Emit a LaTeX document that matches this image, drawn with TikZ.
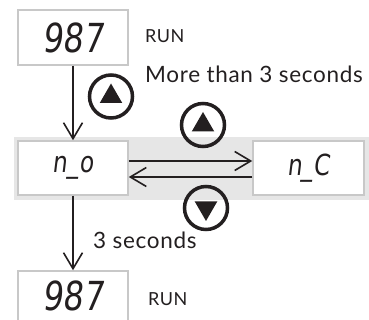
\documentclass[tikz,border=0pt]{standalone}
\usepackage{fontspec}
\setmainfont[LetterSpace=3]{Lato}
\newfontfamily\segfont[FakeSlant=0.15]{DejaVu Sans}
\usetikzlibrary{arrows.meta,shapes.geometric}
\definecolor{ink}{HTML}{231F20}
\definecolor{boxline}{HTML}{C8C8C8}
\definecolor{band}{HTML}{E6E6E6}
\newcommand{\segtext}[1]{\scalebox{0.8}[1]{#1}}

\begin{document}
\begin{tikzpicture}[x=1pt,y=-1pt]
\tikzset{dispbox/.style={draw=boxline,line width=1.5pt,fill=white,
    minimum width=110pt,minimum height=55pt,inner sep=0pt,text=ink}}
\tikzset{digits/.style={text=ink,inner sep=0pt,font=\segfont\fontsize{40}{40}\selectfont}}
\tikzset{letters/.style={font=\segfont\fontsize{29}{29}\selectfont}}
\tikzset{label/.style={anchor=base west,text=ink,inner sep=0pt,font=\fontsize{18}{18}\selectfont}}
\tikzset{btn/.style={circle,draw=ink,line width=3.5pt,minimum size=43pt,inner sep=0pt}}
\tikzset{uptri/.style={regular polygon,regular polygon sides=3,fill=ink,
    minimum size=26pt,inner sep=0pt}}
\tikzset{dntri/.style={uptri,shape border rotate=180}}
\tikzset{flow/.style={draw=ink,line width=1.6pt,-{Straight Barb[length=16pt,width=19pt]}}}
\useasboundingbox (0,0) rectangle (369,320);
\clip (0,0) rectangle (369,320);
% grey band behind the menu row
\fill[band] (14,137) rectangle (369,200);
% displays
\node[dispbox] (run1) at (73,37.5) {};
\node[digits] (run1d) at (run1) {\segtext{987}};
\node[dispbox,letters,minimum height=54pt] (nop) at (73,168) {\segtext{n\_o}};
\node[dispbox,letters,minimum height=54pt,minimum width=111pt] (nc) at (308.5,168) {\segtext{n\_C}};
\node[dispbox] (run2) at (73,298.5) {};
\node[digits] (run2d) at (73,295.5) {\segtext{987}};
% texts
\node[label] (runa) at (145,42.3) {RUN};
\node[label,font=\fontsize{22.5}{22.5}\selectfont] (hold) at (145,83) {More than 3 seconds};
\node[label,font=\fontsize{22.5}{22.5}\selectfont] (wait) at (93,248) {3 seconds};
\node[label] (runb) at (148,305) {RUN};
% keys
\node[btn] (keya) at (111,96.5) {};
\node[uptri] at (keya) {};
\node[btn] (keyb) at (203,125) {};
\node[uptri] at (keyb) {};
\node[btn] (keyc) at (206,208) {};
\node[dntri] at (keyc) {};
% arrows
\draw[flow] (run1.south) -- (nop.north);
\draw[flow] ([yshift=7pt]nop.east) -- ([yshift=7pt]nc.west);
\draw[flow] ([yshift=-9pt]nc.west) -- ([yshift=-9pt]nop.east);
\draw[flow] (nop.south) -- (run2.north);
\end{tikzpicture}
\end{document}
